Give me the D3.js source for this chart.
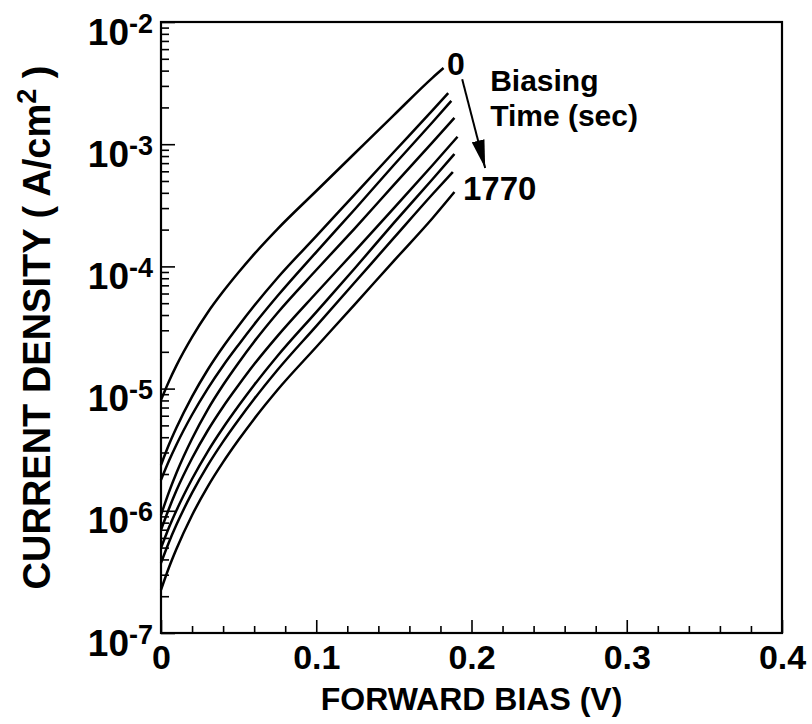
<!DOCTYPE html>
<html>
<head>
<meta charset="utf-8">
<script src="https://cdn.jsdelivr.net/npm/d3@7"></script>
<style>
  body { margin: 0; background: #fff; }
  svg { font-family: "Liberation Sans", Arial, Helvetica, sans-serif; font-weight: bold; }
</style>
</head>
<body>
<script>
// bias grid (V) shared by all curves; each curve then has its own last point
const biasV = [0, 0.005, 0.01, 0.02, 0.03, 0.04, 0.05, 0.06, 0.075, 0.1, 0.125, 0.15, 0.175];
const endBias = [0.182, 0.185, 0.187, 0.189, 0.191, 0.189, 0.188, 0.189];

// current density (A/cm^2), one array per biasing time, top (0 s) to bottom (1770 s)
const jT0 = [8.07e-6, 1.14e-5, 1.55e-5, 2.64e-5, 4.18e-5, 6.22e-5, 8.95e-5, 1.26e-4, 2.02e-4, 4.14e-4, 8.47e-4, 1.73e-3, 3.51e-3, 4.20e-3];
const jT1 = [2.37e-6, 3.45e-6, 4.80e-6, 8.60e-6, 1.42e-5, 2.20e-5, 3.27e-5, 4.76e-5, 8.04e-5, 1.77e-4, 3.91e-4, 8.63e-4, 1.90e-3, 2.62e-3];
const jT2 = [1.79e-6, 2.54e-6, 3.49e-6, 6.11e-6, 9.96e-6, 1.54e-5, 2.29e-5, 3.35e-5, 5.72e-5, 1.31e-4, 2.95e-4, 6.76e-4, 1.52e-3, 2.26e-3];
const jT3 = [9.24e-7, 1.41e-6, 2.05e-6, 3.89e-6, 6.71e-6, 1.07e-5, 1.63e-5, 2.42e-5, 4.16e-5, 9.34e-5, 2.06e-4, 4.64e-4, 1.04e-3, 1.64e-3];
const jT4 = [6.97e-7, 1.03e-6, 1.47e-6, 2.69e-6, 4.52e-6, 7.11e-6, 1.07e-5, 1.58e-5, 2.69e-5, 6.06e-5, 1.34e-4, 3.00e-4, 6.76e-4, 1.15e-3];
const jT5 = [4.96e-7, 7.23e-7, 1.01e-6, 1.82e-6, 3.04e-6, 4.78e-6, 7.23e-6, 1.07e-5, 1.85e-5, 4.23e-5, 9.70e-5, 2.27e-4, 5.19e-4, 8.31e-4];
const jT6 = [3.74e-7, 5.48e-7, 7.71e-7, 1.40e-6, 2.34e-6, 3.68e-6, 5.56e-6, 8.22e-6, 1.42e-5, 3.25e-5, 7.45e-5, 1.71e-4, 3.91e-4, 5.92e-4];
const jT7 = [2.25e-7, 3.40e-7, 4.89e-7, 9.20e-7, 1.57e-6, 2.50e-6, 3.81e-6, 5.65e-6, 9.74e-6, 2.19e-5, 4.92e-5, 1.11e-4, 2.49e-4, 4.06e-4];
const curves = [jT0, jT1, jT2, jT3, jT4, jT5, jT6, jT7];

const xMajor = [0, 0.1, 0.2, 0.3, 0.4];
const yDecades = [-7, -6, -5, -4, -3, -2];

let width = 812,
    height = 724,
    margin = {top: 22, right: 30, bottom: 91, left: 161};

let xScale = d3.scaleLinear([0, 0.4], [margin.left, width - margin.right]),
    yScale = d3.scaleLog([1e-7, 1e-2], [height - margin.bottom, margin.top]);

let svg = d3.select('body').append('svg').attr('width', width).attr('height', height);

// minor ticks
let xMinor = d3.range(1, 20).map(i => i * 0.02).filter(v => Math.abs(v * 10 - Math.round(v * 10)) > 1e-6);
let yMinor = [];
yDecades.slice(0, -1).forEach(e => { for (let k = 2; k <= 9; k++) yMinor.push(k * Math.pow(10, e)); });

svg.append('g')
    .attr('transform', `translate(0,${height - margin.bottom})`)
    .call(d3.axisBottom(xScale).tickValues(xMinor).tickSize(-7).tickFormat(''))
    .call(g => g.select('.domain').remove());
svg.append('g')
    .attr('transform', `translate(${margin.left},0)`)
    .call(d3.axisLeft(yScale).tickValues(yMinor).tickSize(-8).tickFormat(''))
    .call(g => g.select('.domain').remove());

// major ticks + labels
let xAxis = svg.append('g')
    .attr('transform', `translate(0,${height - margin.bottom})`)
    .call(d3.axisBottom(xScale).tickValues(xMajor).tickSize(-13).tickPadding(12)
        .tickFormat(d => d === 0 ? '0' : d.toFixed(1)));
xAxis.select('.domain').remove();
xAxis.selectAll('text').style('font-size', '34px').attr('fill', '#000');

let yAxis = svg.append('g')
    .attr('transform', `translate(${margin.left},0)`)
    .call(d3.axisLeft(yScale).tickValues(yDecades.map(e => Math.pow(10, e))).tickSize(-14).tickPadding(8));
yAxis.select('.domain').remove();
yAxis.selectAll('.tick text').each(function(d) {
    let t = d3.select(this).text(null).attr('dy', null).attr('y', 22).attr('fill', '#000');
    t.append('tspan').style('font-size', '37px').text('10');
    t.append('tspan').style('font-size', '27px').attr('dy', -12).text('-' + Math.round(-Math.log10(d)));
});

svg.selectAll('.tick line').attr('stroke', '#000').attr('stroke-width', 1.6);

// frame
svg.append('rect')
    .attr('x', margin.left).attr('y', margin.top)
    .attr('width', width - margin.left - margin.right)
    .attr('height', height - margin.top - margin.bottom)
    .attr('fill', 'none').attr('stroke', '#000').attr('stroke-width', 2.2);

// curves
let lineGen = d3.line()
    .x(d => xScale(d[0]))
    .y(d => yScale(d[1]))
    .curve(d3.curveMonotoneX);

svg.append('g').selectAll('path')
    .data(curves.map((c, i) => c.map((v, j) => [j < biasV.length ? biasV[j] : endBias[i], v])))
    .join('path')
    .attr('d', lineGen)
    .attr('fill', 'none')
    .attr('stroke', '#000')
    .attr('stroke-width', 2.5)
    .attr('stroke-linejoin', 'round');

// annotation
svg.append('defs').append('marker')
    .attr('id', 'head').attr('viewBox', '0 0 28 13').attr('refX', 28).attr('refY', 6.5)
    .attr('markerWidth', 28).attr('markerHeight', 13).attr('markerUnits', 'userSpaceOnUse')
    .attr('orient', 'auto')
    .append('path').attr('d', 'M0,0 L28,6.5 L0,13 Z').attr('fill', '#000');

svg.append('line')
    .attr('x1', xScale(0.194)).attr('y1', yScale(3.4e-3))
    .attr('x2', xScale(0.2088)).attr('y2', yScale(6.4e-4))
    .attr('stroke', '#000').attr('stroke-width', 2)
    .attr('marker-end', 'url(#head)');

let ann = svg.append('g').attr('fill', '#000');
ann.append('text').attr('x', xScale(0.19)).attr('y', yScale(3.7e-3)).attr('text-anchor', 'middle')
    .style('font-size', '32px').text('0');
ann.append('text').attr('x', xScale(0.212)).attr('y', yScale(2.75e-3))
    .style('font-size', '30px').text('Biasing');
ann.append('text').attr('x', xScale(0.212)).attr('y', yScale(1.42e-3))
    .style('font-size', '30px').text('Time (sec)');
ann.append('text').attr('x', xScale(0.1945)).attr('y', yScale(3.5e-4))
    .style('font-size', '33px').text('1770');

// axis titles
svg.append('text')
    .attr('x', (margin.left + width - margin.right) / 2).attr('y', 710)
    .attr('text-anchor', 'middle').style('font-size', '32px')
    .text('FORWARD BIAS (V)');

let yt = svg.append('text')
    .attr('transform', `translate(50,${(margin.top + height - margin.bottom) / 2}) rotate(-90)`)
    .attr('text-anchor', 'middle').style('font-size', '38px');
yt.append('tspan').text('CURRENT DENSITY ( A/cm');
yt.append('tspan').attr('dy', -14).style('font-size', '27px').text('2');
yt.append('tspan').attr('dy', 14).text(' )');
</script>
</body>
</html>
